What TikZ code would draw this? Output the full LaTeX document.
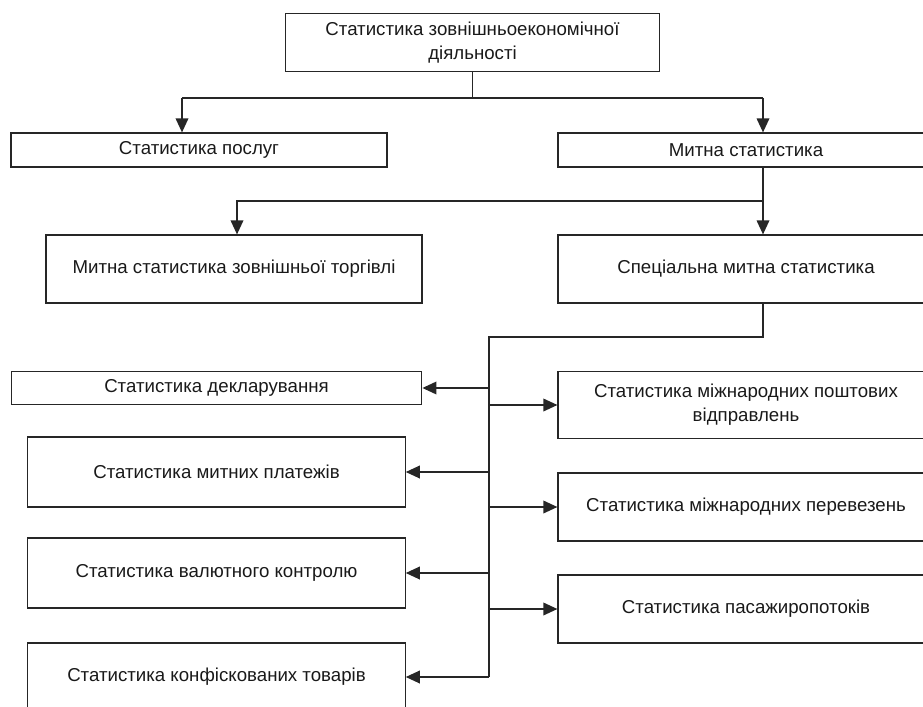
\documentclass[tikz,border=0pt]{standalone}
\usepackage{fontspec}
\setmainfont{Liberation Sans}
\usetikzlibrary{arrows.meta,calc}

\tikzset{
  blok/.style={draw=black!85, line width=0.9pt, rectangle, align=center,
    inner sep=0pt, font=\fontsize{14}{18}\selectfont, text=black!90},
  zv/.style={draw=black!85, line width=1pt},
  str/.style={zv, -{Triangle[length=10.5pt,width=9.5pt]}}
}

\begin{document}
\begin{tikzpicture}[x=0.75pt, y=-0.75pt]
        \useasboundingbox (0,0) rectangle (923,706);
        % top level
        \node[blok, minimum width=281pt, minimum height=43pt] (zed) at (472.5,42.5)
            {Статистика зовнішньоекономічної\\діяльності};
        \node[blok, minimum width=282pt, minimum height=25.5pt] (posluh) at (199,150) {Статистика послуг};
        \node[blok, minimum width=282pt, minimum height=25.5pt] (mytna) at (746,150) {Митна статистика};
        \node[blok, minimum width=282pt, minimum height=51pt] (mszt) at (234,269) {Митна статистика зовнішньої торгівлі};
        \node[blok, minimum width=282pt, minimum height=51pt] (spec) at (746,269) {Спеціальна митна статистика};
        % left column
        \node[blok, minimum width=308pt, minimum height=25pt] (decl) at (216.5,388) {Статистика декларування};
        \node[blok, minimum width=283pt, minimum height=52.5pt] (platezhi) at (216.5,472) {Статистика митних платежів};
        \node[blok, minimum width=283pt, minimum height=52.5pt] (valyuta) at (216.5,573) {Статистика валютного контролю};
        \node[blok, minimum width=283pt, minimum height=51pt] (konfisk) at (216.5,677) {Статистика конфіскованих товарів};
        % right column
        \node[blok, minimum width=282pt, minimum height=50pt] (poshta) at (746,405)
            {Статистика міжнародних поштових\\відправлень};
        \node[blok, minimum width=282pt, minimum height=51pt] (perevez) at (746,507) {Статистика міжнародних перевезень};
        \node[blok, minimum width=282pt, minimum height=51pt] (pasazh) at (746,609) {Статистика пасажиропотоків};

        % connectors
        \coordinate (bus1) at (zed.south |- 0,98);
        \coordinate (lcol) at (182,98);
        \coordinate (rcol) at (763,98);
        \coordinate (bus2) at (763,201);
        \coordinate (trunk) at (489,337);
        \coordinate (trunkend) at (489,677);
        \draw[zv] (zed.south) -- (bus1);
        \draw[zv] (lcol) -- (rcol);
        \draw[str] (lcol) -- (lcol |- posluh.north);
        \draw[str] (rcol) -- (rcol |- mytna.north);
        \draw[str] (rcol |- mytna.south) -- (rcol |- spec.north);
        \draw[str] (bus2) -| (mszt.north -| 237,0);
        \draw[zv] (rcol |- spec.south) |- (trunk) -- (trunkend);
        \foreach \b in {decl,platezhi,valyuta,konfisk}
          \draw[str] (trunk |- \b.east) -- (\b.east);
        \foreach \b in {poshta,perevez,pasazh}
          \draw[str] (trunk |- \b.west) -- (\b.west);
    \end{tikzpicture}
\end{document}
